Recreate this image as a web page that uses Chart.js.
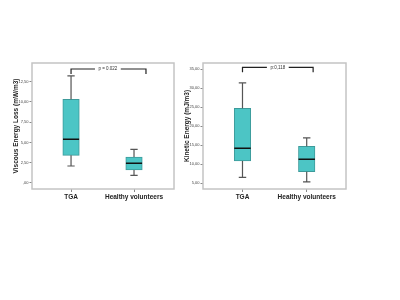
<!DOCTYPE html>
<html><head><meta charset="utf-8">
<script src="https://cdn.jsdelivr.net/npm/chart.js@4/dist/chart.umd.min.js"></script>
<style>
html,body{margin:0;padding:0;background:#fff;}
#wrap{position:relative;width:400px;height:300px;}
canvas{position:absolute;left:0;top:0;}
</style></head><body>
<div id="wrap"><canvas id="c1" width="400" height="300"></canvas><canvas id="c2" width="400" height="300"></canvas></div>
<script>
// ---- data ----
const categories = ['TGA', 'Healthy volunteers'];
const velMin = [2.09, 0.95];
const velQ1  = [3.41, 1.60];
const velMed = [5.38, 2.43];
const velQ3  = [10.3, 3.20];
const velMax = [13.2, 4.15];
const velTicks = [0, 2.5, 5, 7.5, 10, 12.5];
const velTickLabels = [',00', '2,50', '5,00', '7,50', '10,00', '12,50'];

const keMin = [6.5, 5.3];
const keQ1  = [10.8, 8.0];
const keMed = [14.15, 11.3];
const keQ3  = [24.7, 14.7];
const keMax = [31.4, 16.9];
const keTicks = [5, 10, 15, 20, 25, 30, 35];
const keTickLabels = ['5,00', '10,00', '15,00', '20,00', '25,00', '30,00', '35,00'];

const pTexts = ['p = 0.022', 'p:0,118'];

// ---- helpers ----
function whiskers(mn, q1, q3, mx, cap) {
  const pts = [];
  for (let i = 0; i < mn.length; i++) {
    pts.push({x:i, y:q3[i]}, {x:i, y:mx[i]}, {x:i, y:null});
    pts.push({x:i-cap, y:mx[i]}, {x:i+cap, y:mx[i]}, {x:i, y:null});
    pts.push({x:i, y:q1[i]}, {x:i, y:mn[i]}, {x:i, y:null});
    pts.push({x:i-cap, y:mn[i]}, {x:i+cap, y:mn[i]}, {x:i, y:null});
  }
  return pts;
}
function medians(med, hw) {
  const pts = [];
  for (let i = 0; i < med.length; i++) {
    pts.push({x:i-hw, y:med[i]}, {x:i+hw, y:med[i]}, {x:i, y:null});
  }
  return pts;
}
function bracket(yLine, yLeg, xR, gapL, gapR) {
  return [{x:0, y:yLeg}, {x:0, y:yLine}, {x:gapL, y:yLine}, {x:0, y:null},
          {x:gapR, y:yLine}, {x:xR, y:yLine}, {x:xR, y:yLeg}];
}
const framePlugin = {
  id: 'frame',
  afterDraw(chart) {
    const a = chart.chartArea, ctx = chart.ctx;
    ctx.save();
    ctx.strokeStyle = '#c4c4c4';
    ctx.lineWidth = 1.5;
    ctx.strokeRect(a.left, a.top, a.right - a.left, a.bottom - a.top);
    const o = chart.options.plugins.ptext;
    ctx.fillStyle = '#333';
    ctx.font = '4.5px "Liberation Sans", Arial, sans-serif';
    ctx.textAlign = 'center';
    ctx.textBaseline = 'middle';
    ctx.fillText(o.text, chart.scales.x.getPixelForValue(o.x), chart.scales.y.getPixelForValue(o.y));
    ctx.restore();
  }
};

function makeChart(id, cfg) {
  const ds = [
    { type:'bar', data: categories.map((c,i)=>({x:i, y:[cfg.q1[i], cfg.q3[i]]})),
      backgroundColor:'#4cc5c5', borderColor:'#3d9a9a', borderWidth:1, borderSkipped:false,
      barThickness:16.5, order:3 },
    { type:'line', data: whiskers(cfg.mn, cfg.q1, cfg.q3, cfg.mx, 0.058),
      borderColor:'#555', borderWidth:1.2, pointRadius:0, spanGaps:false, order:2 },
    { type:'line', data: medians(cfg.med, 0.128),
      borderColor:'#111', borderWidth:1.5, pointRadius:0, spanGaps:false, order:1 },
    { type:'line', data: bracket(cfg.br[0], cfg.br[1], cfg.br[2], cfg.br[3], cfg.br[4]),
      borderColor:'#222', borderWidth:1.2, pointRadius:0, spanGaps:false, order:1 }
  ];
  return new Chart(document.getElementById(id), {
    type:'bar',
    data:{ datasets: ds },
    options:{
      responsive:false, animation:false, devicePixelRatio:1,
      layout:{ padding: cfg.pad },
      plugins:{ legend:{display:false}, tooltip:{enabled:false},
        ptext:{ text: cfg.ptext, x: cfg.ptx, y: cfg.br[0] } },
      scales:{
        x:{ type:'linear', min:cfg.xr[0], max:cfg.xr[1], offset:false,
          afterBuildTicks: s => { s.ticks = categories.map((c,i)=>({value:i})); },
          afterFit: s => { s.height = 14; },
          ticks:{ callback:(v)=>categories[v], color:'#222', padding:1, maxRotation:0, autoSkip:false,
            font:{ size:6.5, weight:'bold', family:'"Liberation Sans", Arial, sans-serif' } },
          grid:{ offset:false, drawOnChartArea:false, tickLength:3, color:'#888' },
          border:{ display:false } },
        y:{ type:'linear', min:cfg.yr[0], max:cfg.yr[1],
          afterBuildTicks: s => { s.ticks = cfg.ticks.map(v=>({value:v})); },
          afterFit: s => { s.width = cfg.yw; },
          ticks:{ callback:(v)=>cfg.tickLabels[cfg.ticks.indexOf(v)], color:'#444', padding:1,
            font:{ size:4, family:'"Liberation Sans", Arial, sans-serif' } },
          grid:{ offset:false, drawOnChartArea:false, tickLength:2.5, color:'#888' },
          border:{ display:false },
          title:{ display:true, text:cfg.title, color:'#222', padding:0,
            font:{ size:6.5, weight:'bold', family:'"Liberation Sans", Arial, sans-serif' } } }
      }
    },
    plugins:[framePlugin]
  });
}

makeChart('c1', { mn:velMin, q1:velQ1, med:velMed, q3:velQ3, mx:velMax,
  ticks:velTicks, tickLabels:velTickLabels, yr:[-0.74, 14.78], xr:[-0.62, 1.635],
  pad:{left:12, top:63, right:226, bottom:97}, yw:20,
  title:'Viscous Energy Loss (mW/m3)', ptext:pTexts[0], ptx:0.585,
  br:[14.04, 13.42, 1.19, 0.38, 0.79] });

makeChart('c2', { mn:keMin, q1:keQ1, med:keMed, q3:keQ3, mx:keMax,
  ticks:keTicks, tickLabels:keTickLabels, yr:[3.42, 36.66], xr:[-0.615, 1.612],
  pad:{left:183, top:63, right:54, bottom:97}, yw:20,
  title:'Kinetic Energy (mJ/m3)', ptext:pTexts[1], ptx:0.55,
  br:[35.53, 34.2, 1.10, 0.38, 0.72] });
</script>
</body></html>
